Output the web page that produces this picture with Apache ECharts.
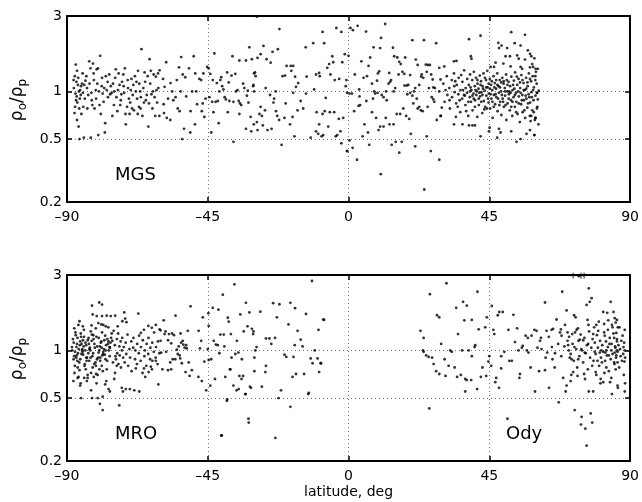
<!DOCTYPE html>
<html>
<head>
<meta charset="utf-8">
<script src="https://cdn.jsdelivr.net/npm/echarts@6/dist/echarts.min.js"></script>
<style>html,body{margin:0;padding:0;background:#fff}#c{width:642px;height:502px}</style>
</head>
<body>
<div id="c"></div>
<script>
const xTicks = [-90, -45, 0, 45, 90];
const yTicks = [0.2, 0.5, 1, 3];
const yTickLabels = ['0.2', '0.5', '1', '3'];
const panelNames = ['MGS', 'MRO', 'Ody'];

// MGS: [latitude, rho_o/rho_p]
const mgs = [
[-87.2,1.48],[-86.8,1.35],[-87.5,1.25],[-87.0,1.15],[-86.5,1.1],[-87.8,1.05],[-86.2,1.0],[-87.3,0.97],[-86.9,0.93],[-85.8,1.02],[-85.5,1.08],[-85.2,1.12],[-84.9,0.98],[-85.9,0.9],[-86.7,0.85],[-87.4,0.8],[-86.1,0.78],[-87.6,0.73],[-86.8,0.66],[-86.3,0.6],[-85.4,0.72],[-84.8,0.8],[-84.5,1.1],[-84.1,1.17],[-83.6,1.05],[-83.2,0.95],[-83.8,1.25],[-82.9,1.55],[-82.5,1.4],[-81.7,1.5],[-81.5,1.3],[-82.1,0.88],[-81.9,0.82],[-81.2,0.78],[-80.8,1.02],[-80.5,1.38],[-80.1,1.4],[-79.4,1.68],[-79.8,1.0],[-79.2,0.72],[-78.6,0.97],[-78.8,1.22],[-78.1,1.05],[-77.8,0.63],[-77.3,1.02],[-77.0,1.15],[-76.5,1.28],[-76.2,0.96],[-75.7,0.98],[-75.3,1.12],[-75.0,0.82],[-74.6,1.22],[-74.2,0.92],[-73.9,0.75],[-73.5,1.3],[-73.2,1.1],[-72.8,0.88],[-72.4,1.15],[-72.0,1.28],[-71.7,0.98],[-71.3,0.72],[-70.8,0.8],[-70.5,1.05],[-70.2,0.9],[-69.8,0.85],[-69.4,1.2],[-69.0,0.95],[-68.6,0.76],[-68.3,1.25],[-68.0,1.0],[-67.6,0.9],[-67.3,1.35],[-67.0,0.8],[-66.6,1.0],[-66.2,1.85],[-65.9,0.7],[-65.6,1.05],[-65.2,1.32],[-64.8,0.88],[-64.5,0.95],[-64.0,0.6],[-63.6,1.6],[-63.4,1.12],[-63.0,0.96],[-62.7,0.78],[-62.3,1.28],[-62.0,0.92],[-61.6,1.24],[-61.2,0.85],[-60.8,1.05],[-60.5,0.7],
[-86.0,0.5],[-84.6,0.51],[-82.4,0.51],[-80.0,0.53],[-77.9,0.55],[-66.5,0.78],[-71.2,0.62],
[-87.9,1.18],[-87.1,0.88],[-86.4,1.22],[-85.6,0.95],[-85.0,1.3],[-84.3,0.9],[-83.5,0.78],[-82.8,1.12],[-82.2,0.98],[-81.4,1.18],[-80.7,0.9],[-80.3,1.12],[-79.6,0.82],[-78.9,1.08],[-78.3,0.86],[-77.6,1.25],[-76.9,0.92],[-76.0,1.08],[-75.5,0.7],[-74.9,1.0],[-74.4,1.38],[-73.7,1.02],[-73.0,0.82],[-72.6,0.96],[-71.9,1.08],[-71.5,1.4],[-70.6,1.18],[-70.0,0.72],[-69.6,1.02],[-69.2,0.78],[-68.8,1.1],[-67.8,1.15],[-67.4,0.72],[-66.9,1.12],[-66.4,0.92],[-65.4,0.85],[-65.0,1.15],[-64.2,1.25],[-63.8,0.84],[-63.2,1.35],[-62.5,1.0],[-61.8,0.7],[-61.4,1.02],[-60.9,1.3],
[-60.4,1.36],[-58.3,1.53],[-59.3,1.2],[-58.8,1.07],[-57.7,0.9],[-59.1,0.83],[-59.0,0.73],[-58.1,0.68],[-57.0,0.66],[-56.9,1.13],[-56.0,0.88],[-56.4,1.0],[-55.3,0.92],[-54.9,1.18],[-54.2,1.42],[-53.5,1.65],[-54.6,0.78],[-54.0,0.75],[-53.7,1.0],[-53.2,0.5],[-53.0,1.28],[-52.2,1.23],[-52.6,0.58],[-51.9,0.93],[-50.6,0.55],[-51.0,1.4],[-50.5,0.75],[-50.0,1.0],[-49.5,1.67],[-49.0,1.3],[-48.7,1.0],[-49.1,0.62],[-48.4,0.83],[-47.7,1.2],[-47.1,1.18],[-46.9,0.75],[-46.6,0.84],[-46.4,1.3],[-46.1,0.69],[-45.7,0.9],[-45.2,1.43],[-44.7,1.4],[-44.5,0.92],[-44.2,1.29],[-43.9,0.55],[-43.6,0.86],[-43.4,1.18],[-43.2,0.74],[-42.9,1.74],[-42.5,0.86],[-42.1,1.13],[-41.8,0.87],[-41.5,0.63],[-41.3,1.0],[-41.0,1.18],[-40.7,1.23],[-40.4,1.08],[-40.0,1.03],[-39.6,0.92],[-39.2,0.89],[-38.6,0.74],[-38.8,1.32],[-38.3,1.14],[-38.1,0.87],[-37.4,1.26],[-37.1,1.67],[-36.8,0.86],[-36.2,1.29],[-36.0,1.0],[-35.5,1.02],[-34.9,1.57],[-35.1,0.87],[-34.9,0.72],[-34.7,0.84],[-34.3,0.82],[-33.7,1.12],[-33.3,1.05],[-32.8,1.57],[-32.5,0.94],[-32.2,1.01],[-32.0,0.85],[-31.3,0.69],[-31.1,0.56],[-32.8,0.58],[-30.9,1.6],[-31.7,1.9],[-30.5,1.08],[-30.2,1.3],[-30.3,0.62],[-36.8,0.48],
[-29.3,2.97],[-22.1,2.48],[-27.2,1.94],[-29.1,1.63],[-28.1,1.72],[-26.2,1.6],[-24.9,1.52],[-24.3,1.78],[-22.6,1.85],[-29.9,1.32],[-29.7,1.25],[-30.4,1.1],[-30.2,1.0],[-26.5,1.05],[-25.1,0.95],[-23.8,0.9],[-23.3,1.0],[-24.0,0.85],[-28.1,0.8],[-27.7,0.7],[-28.5,0.72],[-26.7,0.76],[-29.3,0.64],[-29.1,0.57],[-27.4,0.61],[-25.9,0.57],[-24.6,0.58],[-23.2,0.75],[-22.8,0.7],[-22.2,0.66],[-21.4,0.46],[-21.1,1.25],[-20.3,1.26],[-20.5,0.68],[-20.1,0.84],[-19.8,1.45],[-18.5,1.45],[-17.7,1.45],[-18.3,1.35],[-17.1,1.24],[-18.7,0.62],[-17.9,0.69],[-17.3,0.52],[-17.7,0.98],[-16.8,1.07],[-16.1,1.13],[-16.3,0.76],[-15.3,0.87],[-14.5,0.78],[-13.7,1.9],[-13.4,1.24],[-13.6,0.97],[-12.1,0.51],[-11.3,2.02],[-11.0,1.03],[-10.4,1.28],[-10.2,0.74],[-10.4,0.56],[-9.7,0.54],[-9.4,1.31],[-9.2,1.25],[-9.4,0.62],[-8.6,0.52],[-8.1,0.53],[-7.8,2.02],[-8.3,2.38],[-8.3,0.72],[-7.6,0.75],[-7.3,0.91],[-6.8,1.41],[-6.5,0.6],[-6.0,0.74],[-5.8,1.28],[-6.2,1.49],[-5.2,1.67],[-4.9,1.53],[-4.6,0.74],[-4.4,1.18],[-4.1,0.52],[-3.6,0.53],[-3.0,1.2],[-2.6,0.56],[-2.3,2.38],[-2.0,1.53],[-1.7,0.68],[-1.2,1.72],[-0.9,1.08],[-0.7,1.18],[-3.9,2.52],[-3.1,0.67],[-2.3,0.47],[-0.4,0.42],
[0.6,2.52],[1.4,2.44],[2.9,2.6],[5.6,2.39],[11.7,2.67],[10.4,2.18],[0.0,1.68],[8.0,1.9],[10.1,1.88],[14.2,1.89],[20.4,2.11],[24.1,2.11],[28.0,2.02],[4.1,1.55],[6.9,1.64],[6.4,1.45],[14.6,1.67],[15.6,1.64],[16.2,1.54],[16.7,1.49],[18.1,1.64],[21.5,1.59],[22.1,1.47],[24.7,1.48],[25.3,1.47],[26.0,1.47],[29.0,1.41],[2.0,1.28],[5.9,1.25],[4.8,1.22],[9.4,1.3],[9.8,1.34],[13.0,1.31],[16.0,1.28],[17.2,1.33],[17.8,1.29],[19.7,1.27],[23.4,1.28],[23.9,1.22],[25.0,1.33],[26.4,1.28],[3.4,1.03],[7.5,1.12],[9.1,1.17],[12.8,1.12],[13.3,1.15],[13.6,1.18],[14.9,1.05],[17.9,1.09],[18.6,1.09],[19.1,1.1],[21.3,1.05],[22.6,1.1],[23.2,1.24],[25.7,1.05],[27.1,1.06],[27.6,1.05],[29.4,1.19],[26.9,1.19],[-0.5,0.98],[0.3,0.97],[1.1,0.97],[1.8,0.75],[3.5,0.93],[3.2,0.81],[3.7,0.82],[5.7,0.87],[7.8,0.9],[8.2,1.0],[8.5,0.97],[9.3,0.98],[10.6,0.95],[11.2,0.92],[12.2,0.88],[12.0,1.0],[14.4,1.0],[18.8,0.96],[19.7,0.98],[20.4,0.94],[20.7,0.84],[20.9,1.0],[21.8,0.9],[22.1,0.78],[22.6,0.8],[23.1,0.76],[23.7,0.75],[25.3,0.8],[26.6,0.92],[27.1,0.89],[27.4,0.86],[29.0,1.0],[29.8,0.79],[7.5,0.74],[8.8,0.68],[5.1,0.62],[10.1,0.6],[11.2,0.6],[11.9,0.68],[13.1,0.62],[14.4,0.62],[15.4,0.72],[16.5,0.72],[17.5,0.78],[18.4,0.7],[19.4,0.67],[28.2,0.66],[29.4,0.7],[9.6,0.57],[6.2,0.55],[4.5,0.52],[19.9,0.54],[25.0,0.52],[0.3,0.49],[-0.5,0.42],[1.3,0.44],[2.7,0.37],[6.6,0.46],[13.8,0.46],[15.1,0.48],[17.0,0.48],[16.2,0.41],[21.3,0.45],[26.3,0.42],[29.0,0.37],[10.3,0.3],[24.2,0.24],
[38.5,2.14],[42.2,2.25],[52.0,2.37],[56.4,2.28],[53.1,2.02],[55.0,1.95],[47.9,2.03],[48.9,1.95],[48.1,1.88],[50.7,1.88],[57.3,1.82],[58.0,1.73],[58.4,1.67],[58.7,1.49],[59.8,1.39],[33.7,1.55],[34.5,1.56],[39.1,1.67],[39.3,1.61],[30.6,1.44],[50.2,1.67],[51.6,1.67],[53.9,1.69],[54.4,1.61],[56.4,1.59],[45.4,1.43],[46.5,1.43],[47.0,1.52],[49.5,1.5],[51.8,1.44],[55.0,1.43],[55.5,1.39],[58.0,1.42],[59.0,1.43],
[29.5,0.7],[34.3,0.69],[33.7,0.62],[36.4,0.62],[38.5,0.61],[39.6,0.61],[40.4,0.61],[42.2,0.52],[44.9,0.56],[45.1,0.59],[48.1,0.58],[48.6,0.55],[47.5,0.51],[52.0,0.56],[53.7,0.48],[55.0,0.5],[56.9,0.54],[58.0,0.57],[59.4,0.53],[58.2,0.65],[59.8,0.68],
[59.4,1.62],[60.5,1.39],[59.9,1.33],[59.7,1.25],[60.2,0.98],[60.8,1.01],[60.5,0.89],[60.2,0.78],[59.7,0.68],[60.7,0.62],[59.4,0.53],
[30.3,1.12],[30.7,0.86],[31.4,1.25],[31.6,0.95],[32.2,1.05],[32.4,0.78],[33.0,1.18],[33.1,0.92],[33.7,1.3],[33.9,0.99],[34.4,0.84],[34.6,1.1],[35.1,0.96],[35.2,1.22],[35.7,0.74],[35.8,1.02],[36.3,0.9],[36.4,1.15],[36.9,0.95],[36.95,1.36],[37.35,0.82],[37.45,1.05],[37.85,0.98],[37.95,1.2],[38.25,0.7],[38.45,1.1],[38.75,0.92],[38.85,1.28],[39.15,0.86],[39.25,1.02],[39.55,1.18],[39.65,0.76],[39.95,0.97],[40.05,1.33],[40.35,1.08],[40.45,0.88],[40.75,1.22],[40.85,0.95],[41.15,0.69],[41.25,1.12],[41.55,1.04],[41.65,0.82],[41.95,1.26],[42.05,0.93],[42.35,1.16],[42.45,0.99],[42.75,0.73],[42.85,1.08],[43.15,1.3],[43.25,0.87],[43.55,1.01],[43.65,0.8],[43.95,1.18],[44.05,0.94],[44.35,1.35],[44.45,1.06],[44.75,0.85],[44.85,0.97],[45.15,1.2],[45.25,0.78],[45.55,1.1],[45.65,0.9],[45.95,1.02],[46.05,0.68],[46.35,1.25],[46.45,0.95],[46.75,1.13],[46.85,0.83],[47.15,1.04],[47.25,0.92],[47.55,1.3],[47.65,0.75],[47.95,1.08],[48.05,0.98],[48.35,1.18],[48.45,0.86],[48.75,1.0],[48.85,0.71],[49.15,1.22],[49.25,0.9],[49.55,1.12],[49.65,0.8],[49.95,1.05],[50.05,0.94],[50.35,1.28],[50.45,0.66],[50.75,1.0],[50.85,0.84],[51.15,1.15],[51.25,0.96],[51.55,0.76],[51.65,1.08],[51.95,0.88],[52.05,1.24],[52.35,0.7],[52.45,1.02],[52.75,0.92],[52.85,1.17],[53.15,0.8],[53.25,1.32],[53.55,0.98],[53.65,0.86],[53.95,1.1],[54.05,0.72],[54.35,1.2],[54.45,0.93],[54.75,0.64],[54.85,1.05],[55.15,0.83],[55.25,1.27],[55.55,0.95],[55.65,0.74],[55.95,1.13],[56.05,0.88],[56.35,1.02],[56.45,0.68],[56.75,1.22],[56.85,0.9],[57.15,0.79],[57.25,1.08],[57.55,0.96],[57.65,1.3],[57.95,0.7],[58.05,0.85],[58.35,1.16],[58.45,0.99],[58.75,0.76],[58.85,1.25],[59.15,0.88],[59.25,1.06],[59.55,0.66],[59.75,0.94],[60.15,1.12],[60.35,0.8],
[31.0,1.02],[32.3,0.88],[33.8,1.08],[34.9,0.8],[36.0,1.27],[37.2,0.94],[38.3,0.86],[39.0,1.06],[40.0,0.9],[40.6,1.02],[41.2,1.18],[41.8,0.98],[42.4,0.86],[43.0,1.04],[43.6,1.22],[44.2,0.78],[44.8,1.12],[45.4,0.96],[46.0,0.86],[46.6,1.06],[47.2,1.18],[47.8,0.9],[48.4,1.06],[49.0,0.95],[49.6,1.16],[50.2,0.82],[50.8,1.1],[51.4,1.0],[52.0,0.8],[52.6,1.1],[53.2,0.95],[53.8,1.24],[54.4,0.84],[55.0,0.98],[55.6,1.18],[56.2,0.76],[56.8,1.04],[57.4,0.84],[58.0,1.2],[58.6,0.92],[59.2,0.74],[59.7,1.18],[60.3,0.98],
[34.1,1.16],[35.5,0.88],[36.6,1.02],[37.6,0.75],[38.8,1.0],[39.6,0.94],[40.4,0.8],[41.0,1.0],[41.6,0.9],[42.2,1.1],[42.8,0.95],[43.4,0.77],[44.0,1.06],[44.6,0.9],[45.2,1.04],[45.8,1.16],[46.4,0.8],[47.0,0.96],[47.6,1.1],[48.2,0.82],[48.8,1.14],[49.4,0.86],[50.0,1.0],[50.6,1.18],[51.2,0.9],[51.8,0.98],[52.4,0.86],[53.0,1.04],[53.6,0.74],[54.2,1.0],[54.8,1.14],[55.4,0.88],[56.0,1.02],[56.6,0.94],[57.2,1.14],[57.8,0.92],[58.4,0.7],[59.0,1.02]
];

// MRO: [latitude, rho_o/rho_p]
const mro = [
[-82.0,1.92],[-79.7,2.01],[-78.8,1.95],[-81.8,1.69],[-80.5,1.65],[-78.8,1.65],[-77.3,1.66],[-76.0,1.65],[-74.6,1.66],[-71.7,1.74],[-67.2,1.71],[-71.4,1.59],[-72.3,1.53],[-71.0,1.51],[-86.0,1.53],[-80.0,1.49],[-78.4,1.45],[-77.6,1.42],[-73.8,1.42],[-64.0,1.43],[-62.9,1.39],[-61.6,1.45],[-65.4,1.35],[-66.4,1.29],[-60.1,1.34],
[-85.8,0.6],[-86.6,0.67],[-84.5,0.67],[-83.4,0.67],[-80.7,0.71],[-82.3,0.56],[-77.8,0.61],[-76.7,0.57],[-76.3,0.55],[-85.5,0.5],[-82.0,0.5],[-80.2,0.5],[-78.6,0.51],[-79.5,0.46],[-78.6,0.42],[-73.3,0.45],[-72.5,0.58],[-72.1,0.55],[-71.2,0.57],[-69.9,0.57],[-68.5,0.56],[-66.9,0.55],[-65.0,0.68],[-63.9,0.73],[-62.7,0.86],[-61.6,0.86],[-60.8,0.61],[-65.4,0.77],[-63.2,0.79],[-68.0,0.77],
[-88.4,1.05],[-87.7,0.92],[-88.1,1.18],[-87.5,0.8],[-88.3,1.0],[-87.2,1.25],[-87.9,0.88],[-86.8,1.1],[-87.6,0.72],[-86.5,0.96],[-87.3,1.3],[-86.1,0.84],[-87.0,1.05],[-86.6,0.78],[-85.8,1.14],[-86.9,0.93],[-85.5,1.22],[-86.3,0.68],[-85.2,1.0],[-86.7,0.86],[-85.9,1.08],[-84.6,1.35],[-85.4,0.95],[-86.0,0.75],[-84.9,1.16],[-85.1,1.02],[-84.3,0.82],[-85.6,1.28],[-83.8,0.9],[-84.7,1.06],[-83.4,0.7],[-84.1,1.12],[-85.0,0.98],[-83.1,1.2],[-84.4,0.8],[-82.7,1.04],[-83.6,0.9],[-82.4,1.32],[-83.9,1.08],[-82.9,0.86],[-84.0,0.76],[-82.1,1.15],[-83.2,0.96],[-81.6,1.25],[-82.6,1.0],[-81.3,0.82],[-83.0,1.1],[-81.9,0.92],[-80.8,1.38],[-82.3,0.72],[-81.1,1.04],[-80.4,0.88],[-81.5,1.18],[-79.9,0.97],[-80.6,1.22],[-81.8,0.78],[-79.5,1.06],[-80.1,0.9],[-79.2,1.12],[-80.9,0.84],[-78.8,1.3],[-79.7,1.0],[-78.5,0.95],[-80.2,0.7],[-79.0,1.14],[-78.2,1.02],[-79.4,0.86],[-77.8,1.24],[-78.7,0.93],[-77.5,1.08],[-78.9,0.8],[-77.1,1.18],[-78.4,0.98],[-76.8,1.4],[-77.7,0.88],[-76.4,1.05],[-77.3,0.76],[-76.1,1.12],[-77.9,0.94],[-75.7,1.28],[-76.6,1.0],[-75.3,0.84],[-76.9,1.1],[-74.9,0.66],[-75.9,1.2],[-74.5,0.92],[-76.3,1.04],[-74.1,0.8],[-75.5,1.15],[-75.1,1.33],[-74.7,1.08],
[-87.85,1.12],[-87.45,0.98],[-87.05,0.9],[-86.65,1.2],[-86.25,1.02],[-85.75,0.88],[-85.35,1.1],[-84.85,0.94],[-84.55,1.22],[-84.15,1.0],[-83.75,0.86],[-83.35,1.16],[-82.85,1.02],[-82.45,0.9],[-82.05,1.26],[-81.65,0.96],[-81.25,1.1],[-80.75,0.8],[-80.35,1.06],[-79.85,1.2],[-79.35,0.9],[-78.95,1.04],[-78.55,0.74],[-78.05,1.16],[-77.65,1.0],[-77.15,0.86],[-76.75,1.14],[-76.35,0.92],[-87.65,1.38],[-86.35,1.45],[-84.95,1.42],[-83.65,0.64],[-82.15,1.44],[-80.55,0.62],[-79.05,1.46],[-77.45,0.64],[-87.95,0.64],[-85.65,0.62],[-81.45,0.68],[-79.65,0.76],
[-74.65,0.72],[-74.35,0.88],[-74.05,1.18],[-73.95,0.96],[-73.65,1.28],[-73.55,0.82],[-73.25,1.06],[-73.15,0.93],[-72.85,1.14],[-72.75,0.78],[-72.45,1.0],[-72.35,1.2],[-72.05,0.9],[-71.85,1.05],[-71.55,0.84],[-71.25,1.12],[-71.05,0.95],[-70.65,1.26],[-70.45,0.8],[-70.05,1.02],[-69.85,0.9],[-69.45,1.14],[-69.35,0.74],[-68.85,1.04],[-68.75,1.2],[-68.25,0.88],[-68.15,1.0],[-67.65,0.82],[-67.55,1.1],[-67.05,0.96],[-66.95,1.24],[-66.45,0.86],[-66.35,1.05],[-65.85,0.72],[-65.75,1.16],[-65.25,0.92],[-65.15,1.0],[-64.65,0.8],[-64.55,1.1],[-64.05,0.95],[-63.95,1.2],[-63.45,0.88],[-63.35,1.04],[-62.85,0.76],[-62.75,1.12],[-62.25,0.98],[-62.15,1.3],[-61.65,0.9],[-61.55,1.05],[-61.05,0.82],[-60.95,1.14],[-60.45,0.96],
[-36.5,2.62],[-40.2,2.25],[-50.5,1.9],[-55.3,1.66],[-59.1,1.55],[-60.4,1.36],[-60.1,1.15],[-58.5,1.32],[-58.8,1.27],[-57.4,1.27],[-56.4,1.28],[-55.8,1.25],[-53.7,1.28],[-51.4,1.33],[-47.9,1.33],[-46.6,1.62],[-44.8,1.72],[-44.7,1.43],[-43.4,1.86],[-41.6,1.81],[-38.6,1.61],[-38.3,1.52],[-37.6,1.27],[-41.0,1.26],[-39.9,1.26],[-34.6,1.69],[-32.8,2.0],[-31.7,1.74],[-33.5,1.32],[-32.3,1.42],[-30.9,1.37],[-30.4,1.32],[-30.5,1.27],
[-59.9,0.97],[-58.3,0.98],[-57.7,1.16],[-56.7,1.11],[-54.9,1.01],[-54.3,1.06],[-53.5,1.12],[-53.0,1.15],[-52.8,1.09],[-52.4,1.04],[-51.9,1.08],[-51.7,1.03],[-54.6,0.95],[-54.0,0.93],[-53.8,0.89],[-53.3,0.83],[-55.4,0.88],[-56.2,0.88],[-57.0,0.84],[-59.5,0.76],[-57.7,0.75],[-56.7,0.76],[-52.1,0.73],[-51.1,0.84],[-50.1,0.75],[-50.8,0.69],[-48.0,0.68],[-47.1,1.15],[-47.5,1.03],[-46.9,0.64],[-46.1,0.85],[-45.5,0.56],[-45.0,1.02],[-44.7,0.87],[-43.9,0.88],[-44.2,0.6],[-43.1,1.15],[-42.7,0.66],[-42.4,1.09],[-41.8,1.08],[-41.3,0.96],[-39.7,1.06],[-39.4,0.68],[-38.9,0.48],[-37.9,0.76],[-37.4,0.9],[-36.8,0.6],[-36.2,0.95],[-35.8,0.56],[-35.7,1.15],[-35.2,0.97],[-34.9,0.69],[-34.1,0.88],[-33.7,0.69],[-33.0,0.53],[-31.2,0.58],[-30.1,0.9],[-32.0,0.37],[-40.5,0.29],[-40.7,0.29],
[-11.7,2.75],[-24.1,1.99],[-22.1,1.96],[-18.6,2.0],[-17.1,1.85],[-13.6,1.7],[-7.8,1.56],[-22.9,1.62],[-19.2,1.46],[-16.3,1.33],[-9.6,1.35],[-28.2,1.76],[-25.3,1.19],[-26.4,1.19],[-23.5,1.2],[-24.7,1.1],[-17.2,1.08],[-15.3,1.17],[-14.7,1.06],[-10.8,1.0],[-20.5,0.94],[-19.9,0.91],[-17.6,0.91],[-12.1,0.89],[-11.5,0.83],[-8.8,0.83],[-9.9,0.89],[-9.4,0.73],[-26.4,0.8],[-26.6,0.73],[-27.7,0.59],[-17.9,0.68],[-16.8,0.71],[-14.2,0.71],[-18.6,0.44],[-21.6,0.56],[-22.4,0.5],[-12.9,0.53],[-12.7,0.54],[-23.4,0.28],[-31.9,0.35],[-32.9,0.53],[-29.8,1.0],[-29.4,1.05],[-30.1,0.74],[-31.5,0.59],[-34.2,0.66],[-35.1,0.57],[-38.8,0.49],[-37.8,0.76],[-8.1,1.57],[-8.9,0.83]
];

// Ody: [latitude, rho_o/rho_p]
const ody = [
[23.0,1.33],[24.0,1.2],[23.8,1.0],[24.0,0.98],[26.0,2.27],[31.3,2.66],[25.8,0.43],[24.8,0.93],[25.6,0.91],[26.7,0.9],[27.2,0.82],[28.0,0.74],[29.0,0.71],[31.0,0.69],[28.3,1.67],[29.0,1.62],[29.6,1.1],[30.7,0.88],[32.0,0.8],[33.9,0.78],[34.7,0.68],[35.9,0.7],[32.5,1.0],[33.0,0.98],[34.4,1.86],[36.6,2.03],[37.8,1.92],[37.0,1.55],[39.4,1.56],[35.0,1.27],[36.3,1.0],[38.4,1.0],[37.3,0.66],[37.8,0.65],[39.2,0.65],[39.4,0.92],[40.5,1.08],[40.3,1.05],[41.2,2.35],[41.6,1.36],[41.1,0.57],[37.3,0.55],[42.3,0.68],[42.8,0.78],[43.7,1.4],[44.2,1.62],[44.0,0.69],[44.7,0.85],[45.0,0.92],[45.6,0.8],[45.8,1.91],[46.3,1.35],[46.6,1.27],[47.7,1.67],[48.2,1.75],[49.3,1.75],[47.2,0.67],[46.9,0.63],[48.1,0.58],[48.8,0.92],[48.8,0.77],[49.8,0.98],[50.8,0.37],[51.1,1.35],[51.4,0.86],[52.2,0.86],[52.7,1.68],[53.2,1.13],[53.9,1.38],[54.3,1.0],[54.6,0.67],[54.8,0.71],[55.4,1.04],[55.7,1.07],[56.6,1.24],[57.0,1.0],[57.5,0.97],[57.3,1.2],[58.2,0.78],[58.5,1.24],[59.4,1.35],[59.6,0.55],[60.1,1.33],[60.4,1.04],[60.9,0.74],[61.2,1.15],[61.5,1.2],[61.7,1.02],[62.8,2.01],[62.8,0.75],[63.3,1.33],[63.5,0.97],[64.1,0.58],[64.9,1.35],[65.2,0.88],[65.4,1.37],[65.9,0.78],[66.5,1.57],[67.2,0.47],[67.6,1.3],[67.9,1.36],[68.1,1.24],[68.3,2.35],[68.6,0.67],[69.2,1.45],[69.4,0.55],[69.7,1.79],[69.7,0.6],[70.0,1.15],[70.2,1.08],[70.4,1.0],[70.7,0.9],[71.0,0.64],[71.3,0.88],[71.5,1.27],[71.8,0.73],[72.1,1.67],[72.3,0.42],[72.6,1.62],[72.9,1.35],[73.2,0.69],[73.4,0.88],[73.6,2.95],[73.9,1.17],[74.3,0.34],[74.5,0.38],[75.0,1.16],[75.3,0.71],[75.5,0.97],[75.7,0.32],[76.1,1.94],[76.1,0.25],[76.4,1.56],[76.6,1.1],[76.8,0.55],[76.8,2.47],[77.1,2.03],[77.4,0.4],[77.7,2.14],[77.9,0.35],[78.2,0.55],[78.2,1.27],[78.5,1.4],[78.7,0.98],[79.0,0.73],[79.2,0.7],[79.6,0.86],[79.8,1.33],[80.0,1.52],[80.3,0.97],[80.6,0.66],[80.8,1.0],[81.0,0.84],[81.4,1.75],[81.4,0.63],[81.7,1.47],[81.9,1.24],[82.1,0.97],[82.4,1.0],[82.4,0.78],[82.7,1.73],[82.9,1.35],[83.2,0.93],[83.4,1.1],[83.6,0.63],[83.8,2.03],[84.0,1.0],[84.0,0.67],[84.2,0.53],[84.4,1.4],[84.7,1.75],[84.9,1.2],[84.9,0.84],[85.1,0.97],[85.1,1.6],[85.3,1.04],[85.4,0.76],[85.6,1.29],[85.6,0.93],[85.8,1.56],[85.8,1.14],[85.9,1.0],[86.0,0.6],[86.0,0.84],[86.1,1.4],[86.1,0.58],
[70.5,1.22],[71.0,0.95],[71.6,1.1],[72.0,0.86],[72.4,1.3],[72.8,1.02],[73.1,0.78],[73.5,1.15],[73.8,0.92],[74.2,1.26],[74.6,1.0],[75.0,0.84],[75.4,1.2],[75.8,0.96],[76.2,1.08],[76.5,0.76],[76.9,1.32],[77.2,0.9],[77.6,1.04],[78.0,1.18],[78.3,0.86],[78.7,1.12],[79.0,0.95],[79.4,1.25],[79.7,1.04],[80.1,0.8],[80.4,1.15],[80.7,0.9],[81.1,1.08],[81.4,0.98],[81.7,1.3],[82.0,0.86],[82.3,1.14],[82.6,0.93],[82.9,1.05],[83.2,0.74],[83.5,1.2],[83.8,0.88],[84.1,1.1],[84.4,0.95],[84.7,1.28],[85.0,0.82],[85.2,1.06],[85.5,0.9],[85.8,1.18],[86.0,0.98],[86.3,1.08],[86.5,0.78],[86.8,1.02],[87.0,0.92],[87.2,1.15],[87.4,0.86],[87.6,1.24],[87.8,0.95],[87.9,1.05],[88.0,0.7],[88.1,1.12],[88.2,0.85],[88.3,1.0],[88.3,1.35],[88.4,0.62],[88.4,0.9],[88.3,0.55],[86.6,1.4],[85.4,1.5],[84.2,1.45],[83.0,1.55],[81.8,0.72],[80.5,0.62],[79.2,1.45],[77.9,0.8],[76.7,1.45],[75.6,0.66],[74.4,1.02],[73.3,1.38],[72.2,1.05],[71.2,0.7],[70.0,1.3],[69.0,1.06],[68.0,0.92],[67.0,1.1],[66.0,0.96],[65.0,1.05],[64.0,1.22],[63.0,0.9]
];

// Ody values above the top of the axis, drawn as "+" at the upper limit
const odyClipped = [[71.8, 3], [74.3, 3], [75.3, 3]];

const lg = v => Math.log10(v);
const toXY = arr => arr.map(p => [p[0], lg(p[1])]);
const fmtX = v => (v < 0 ? '\u2013' + Math.abs(v) : String(v));
const fmtY = v => {
  let best = 0;
  yTicks.forEach((t, i) => { if (Math.abs(lg(t) - v) < Math.abs(lg(yTicks[best]) - v)) best = i; });
  return yTickLabels[best];
};
const FONT = 'DejaVu Sans';
const gridLine = { show: true, lineStyle: { color: '#6f6f6f', type: [1, 3], width: 1 } };
const axLine = { show: true, onZero: false, lineStyle: { color: '#000', width: 2 } };
const tick = { show: true, inside: true, length: 5, lineStyle: { color: '#000', width: 1.5 } };

function xPair(gi, showLabel) {
  return [
    { type: 'value', gridIndex: gi, position: 'bottom', min: -90, max: 90, interval: 45,
      axisLine: axLine, axisTick: tick,
      axisLabel: { show: true, formatter: fmtX, color: '#000', fontFamily: FONT, fontSize: 14, margin: 8 },
      splitLine: gridLine,
      name: showLabel ? 'latitude, deg' : '', nameLocation: 'middle', nameGap: 24,
      nameTextStyle: { color: '#000', fontFamily: FONT, fontSize: 14 } },
    { type: 'value', gridIndex: gi, position: 'top', min: -90, max: 90, interval: 45,
      axisLine: axLine, axisTick: tick,
      axisLabel: { show: false }, splitLine: { show: false } }
  ];
}
const yVals = yTicks.map(lg);
function yPair(gi) {
  return [
    { type: 'value', gridIndex: gi, position: 'left', min: lg(0.2), max: lg(3),
      axisLine: axLine,
      axisTick: Object.assign({}, tick, { customValues: yVals }),
      axisLabel: { show: true, customValues: yVals, formatter: fmtY, color: '#000', fontFamily: FONT, fontSize: 14, margin: 5 },
      splitLine: gridLine,
      name: '{r|\u03c1}{s|o}{r|/\u03c1}{s|p}', nameLocation: 'middle', nameRotate: 90, nameGap: 32,
      nameTextStyle: { fontFamily: FONT, color: '#000', padding: [0, 0, 0, 18],
        rich: { r: { fontFamily: FONT, fontSize: 17, lineHeight: 22, verticalAlign: 'middle', color: '#000' },
                s: { fontFamily: FONT, fontSize: 12, lineHeight: 12, verticalAlign: 'bottom', color: '#000' } } } },
    { type: 'value', gridIndex: gi, position: 'right', min: lg(0.2), max: lg(3),
      axisLine: axLine,
      axisTick: Object.assign({}, tick, { customValues: yVals }),
      axisLabel: { show: false }, splitLine: { show: false } }
  ];
}

const dot = { type: 'scatter', symbol: 'circle', symbolSize: 2.8, itemStyle: { color: '#000' }, silent: true };

const chart = echarts.init(document.getElementById('c'), null, { renderer: 'canvas' });
chart.setOption({
  animation: false,
  backgroundColor: '#fff',
  grid: [
    { left: 67, top: 16, width: 565, height: 186 },
    { left: 67, top: 275, width: 565, height: 186 }
  ],
  xAxis: [...xPair(0, false), ...xPair(1, true)],
  yAxis: [...yPair(0), ...yPair(1)],
  graphic: [
    { type: 'text', x: 115, y: 175, style: { text: panelNames[0], font: '18px "DejaVu Sans"', fill: '#000', verticalAlign: 'middle' } },
    { type: 'text', x: 115, y: 434, style: { text: panelNames[1], font: '18px "DejaVu Sans"', fill: '#000', verticalAlign: 'middle' } },
    { type: 'text', x: 506, y: 434, style: { text: panelNames[2], font: '18px "DejaVu Sans"', fill: '#000', verticalAlign: 'middle' } }
  ],
  series: [
    Object.assign({}, dot, { name: 'MGS', xAxisIndex: 0, yAxisIndex: 0, data: toXY(mgs) }),
    Object.assign({}, dot, { name: 'MRO', xAxisIndex: 2, yAxisIndex: 2, data: toXY(mro) }),
    Object.assign({}, dot, { name: 'Ody', xAxisIndex: 2, yAxisIndex: 2, data: toXY(ody) }),
    { type: 'scatter', name: 'Ody (clipped)', xAxisIndex: 2, yAxisIndex: 2, silent: true,
      symbol: 'path://M0,5L10,5M5,0L5,10', symbolSize: 6,
      itemStyle: { color: 'none', borderColor: '#000', borderWidth: 1 },
      data: odyClipped.map(p => [p[0], lg(p[1]) - 0.004]) }
  ]
});
</script>
</body>
</html>
